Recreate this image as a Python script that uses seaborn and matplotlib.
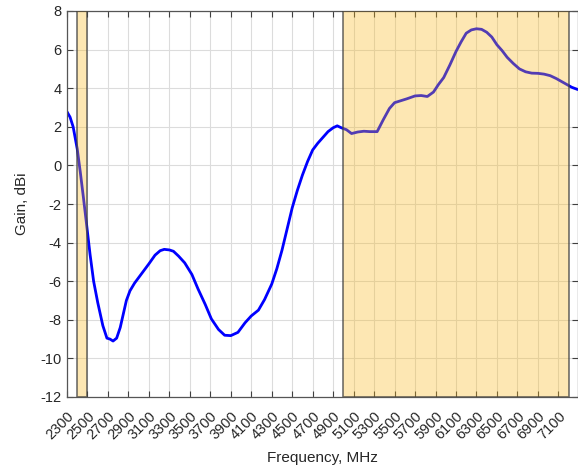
import numpy as np
import pandas as pd
import matplotlib
matplotlib.use("Agg")
import matplotlib.pyplot as plt
import seaborn as sns

freq_mhz = [2300, 2330, 2360, 2400, 2430, 2460, 2490, 2525, 2560, 2600,
            2650, 2690, 2720, 2750, 2785, 2820, 2850, 2880, 2915, 2960,
            3030, 3100, 3160, 3210, 3250, 3300, 3340, 3390, 3450, 3520,
            3580, 3650, 3710, 3780, 3840, 3900, 3970, 4040, 4100, 4170,
            4230, 4300, 4350, 4400, 4450, 4500, 4550, 4600, 4650, 4700,
            4750, 4800, 4850, 4900, 4940, 4980, 5030, 5080, 5140, 5200,
            5260, 5330, 5390, 5450, 5500, 5560, 5620, 5700, 5760, 5820,
            5880, 5930, 5980, 6040, 6100, 6150, 6200, 6250, 6300, 6350,
            6400, 6450, 6500, 6550, 6600, 6660, 6720, 6780, 6840, 6900,
            6960, 7020, 7080, 7130, 7180, 7230, 7290]
gain_dbi = [2.78, 2.5, 2.0, 0.85, -0.35, -1.65, -3.0, -4.6, -6.0, -7.1,
            -8.3, -8.95, -9.0, -9.1, -8.95, -8.4, -7.7, -7.0, -6.5, -6.1,
            -5.6, -5.1, -4.65, -4.42, -4.35, -4.38, -4.45, -4.7, -5.05, -5.65,
            -6.4, -7.2, -7.95, -8.5, -8.8, -8.82, -8.65, -8.15, -7.8, -7.5,
            -6.95, -6.15, -5.35, -4.4, -3.3, -2.2, -1.3, -0.5, 0.2, 0.8,
            1.15, 1.45, 1.75, 1.95, 2.05, 1.95, 1.85, 1.65, 1.73, 1.77,
            1.75, 1.75, 2.37, 2.95, 3.25, 3.35, 3.45, 3.6, 3.62, 3.57,
            3.8, 4.2, 4.55, 5.2, 5.9, 6.4, 6.85, 7.02, 7.08, 7.05,
            6.9, 6.65, 6.25, 5.95, 5.6, 5.28, 5.0, 4.85, 4.78, 4.77,
            4.73, 4.65, 4.5, 4.35, 4.2, 4.05, 3.93]

# highlighted bands (MHz)
band_start = [2400, 5000]
band_end = [2500, 7200]

x_ticks = list(range(2300, 7101, 200))
y_ticks = list(range(-12, 9, 2))

df = pd.DataFrame({"freq": freq_mhz, "gain": gain_dbi})

sns.set_style("ticks")
plt.rcParams["font.family"] = ["Liberation Sans", "DejaVu Sans"]
plt.rcParams["axes.unicode_minus"] = False

fig = plt.figure(figsize=(5.78, 4.70), dpi=100)
ax = fig.add_axes([67 / 578, 1 - 397 / 470, 511 / 578, 386 / 470])

sns.lineplot(data=df, x="freq", y="gain", ax=ax, color="#0000ff",
             linewidth=2.0, zorder=2)
ax.lines[0].set_solid_joinstyle("round")

for s, e in zip(band_start, band_end):
    ax.axvspan(s, e, facecolor=(0.98, 0.72, 0.10, 0.33),
               edgecolor=(0.25, 0.25, 0.25, 0.75), linewidth=1.2, zorder=3)

ax.set_xlim(2300, 7292)
ax.set_ylim(-12, 8)
ax.set_xticks(x_ticks)
ax.set_yticks(y_ticks)
ax.set_xticklabels([str(t) for t in x_ticks], rotation=45, ha="right",
                   rotation_mode="anchor")

ax.grid(True, color="#dcdcdc", linewidth=0.8, zorder=0)
ax.set_axisbelow(True)

ax.tick_params(direction="in", length=4, width=0.8, colors="#404040",
               labelcolor="#262626", labelsize=10.5, top=True, right=True,
               pad=4)
ax.tick_params(axis="x", pad=9)
for sp in ax.spines.values():
    sp.set_visible(True)
    sp.set_color("#555555")
    sp.set_linewidth(0.9)

ax.set_xlabel("Frequency, MHz", fontsize=11, color="#262626", labelpad=6)
ax.set_ylabel("Gain, dBi", fontsize=11, color="#262626", labelpad=8)

fig.savefig("out.png", dpi=100)
